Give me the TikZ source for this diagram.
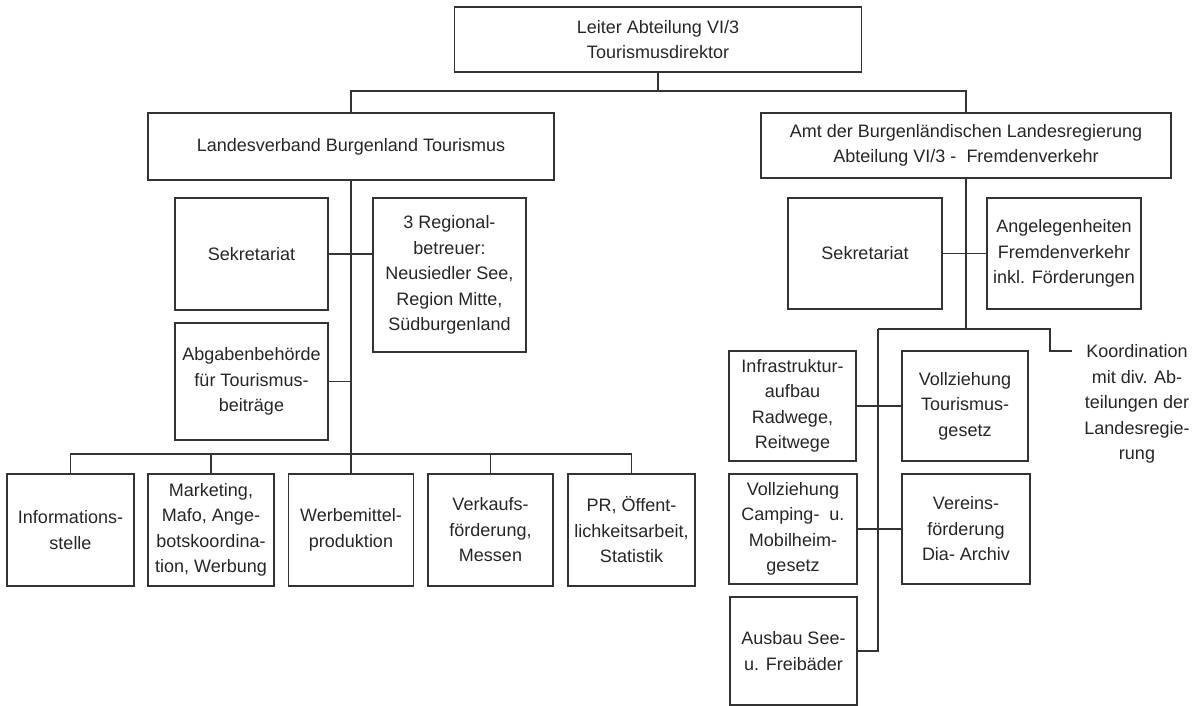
\documentclass[tikz,border=0pt]{standalone}
\usepackage{fontspec}
\setmainfont{Liberation Sans}
\begin{document}
\begin{tikzpicture}[x=1pt,y=-1pt,
  box/.style={draw=black!80, line width=1.1pt, inner sep=0pt, align=center,
    font=\fontsize{18}{25.5}\selectfont, text=black!85},
  txt/.style={inner sep=0pt, align=center, font=\fontsize{18}{25.5}\selectfont, text=black!85},
  conn/.style={draw=black!80, line width=1.1pt}]
\useasboundingbox (0,0) rectangle (1203,706);
% top level
\node[box, minimum width=407, minimum height=65] (top) at (658,39.5) {Leiter Abteilung VI/3\\Tourismusdirektor};
\node[box, minimum width=406, minimum height=67] (lv) at (351,146.5) {Landesverband Burgenland Tourismus};
\node[box, minimum width=410, minimum height=65] (amt) at (966,145.5) {Amt der Burgenländischen Landesregierung\\Abteilung VI/3 -\ \ Fremdenverkehr};
% left branch
\node[box, minimum width=153, minimum height=112] (sekL) at (251.5,254) {Sekretariat};
\node[box, minimum width=153, minimum height=154] (reg) at (449.5,275) {3 Regional-\\betreuer:\\Neusiedler See,\\Region Mitte,\\Südburgenland};
\node[box, minimum width=153, minimum height=117] (abg) at (251.5,381.5) {Abgabenbehörde\\für Tourismus-\\beiträge};
\node[box, minimum width=127, minimum height=112] (info) at (70.5,530) {Informations-\\stelle};
\node[box, minimum width=126, minimum height=112] (mkt) at (211,530) {Marketing,\\Mafo, Ange-\\botskoordina-\\tion, Werbung};
\node[box, minimum width=125, minimum height=112] (wbm) at (351,530) {Werbemittel-\\produktion};
\node[box, minimum width=125, minimum height=112] (vkf) at (490.5,530) {Verkaufs-\\förderung,\\Messen};
\node[box, minimum width=127, minimum height=112] (pr) at (631.5,530) {PR, Öffent-\\lichkeitsarbeit,\\Statistik};
% right branch
\node[box, minimum width=154, minimum height=111] (sekR) at (865,253.5) {Sekretariat};
\node[box, minimum width=154, minimum height=111] (ang) at (1064,253.5) {Angelegenheiten\\Fremdenverkehr\\inkl. Förderungen};
\node[box, minimum width=127, minimum height=110] (infra) at (792.5,406) {Infrastruktur-\\aufbau\\Radwege,\\Reitwege};
\node[box, minimum width=126, minimum height=110] (vollz) at (965,406) {Vollziehung\\Tourismus-\\gesetz};
\node[box, minimum width=128, minimum height=110] (camp) at (793,529) {Vollziehung\\Camping-\ \ u.\\Mobilheim-\\gesetz};
\node[box, minimum width=128, minimum height=110] (ver) at (966,529) {Vereins-\\förderung\\Dia- Archiv};
\node[box, minimum width=127, minimum height=108] (ausb) at (793.5,651) {Ausbau See-\\u. Freibäder};
\node[txt] (koord) at (1137,404) {Koordination\\mit div. Ab-\\teilungen der\\Landesregie-\\rung};
% coordinates
\coordinate (j1) at (658,91);
\coordinate (j2) at (966,329);
\coordinate (hl) at (878,329);
\coordinate (hr) at (1050,329);
\coordinate (kend) at (1072,351);
\coordinate (bar) at (351,454);
% connectors
\draw[conn] (top.south) -- (j1);
\draw[conn] (lv.north) |- (j1) -| (amt.north);
\draw[conn] (lv.south) -- (wbm.north);
\draw[conn] (sekL.east) -- (sekL.east -| reg.west);
\draw[conn] (abg.east) -- (abg.east -| lv.south);
\draw[conn] (info.north) |- (bar) -| (pr.north);
\draw[conn] (mkt.north) -- (mkt.north |- bar);
\draw[conn] (vkf.north) -- (vkf.north |- bar);
\draw[conn] (amt.south) -- (j2);
\draw[conn] (sekR.east) -- (ang.west);
\draw[conn] (hl) -- (hr) |- (kend);
\draw[conn] (hl) |- (ausb.east);
\draw[conn] (infra.east) -- (vollz.west);
\draw[conn] (camp.east) -- (ver.west);
\end{tikzpicture}
\end{document}
